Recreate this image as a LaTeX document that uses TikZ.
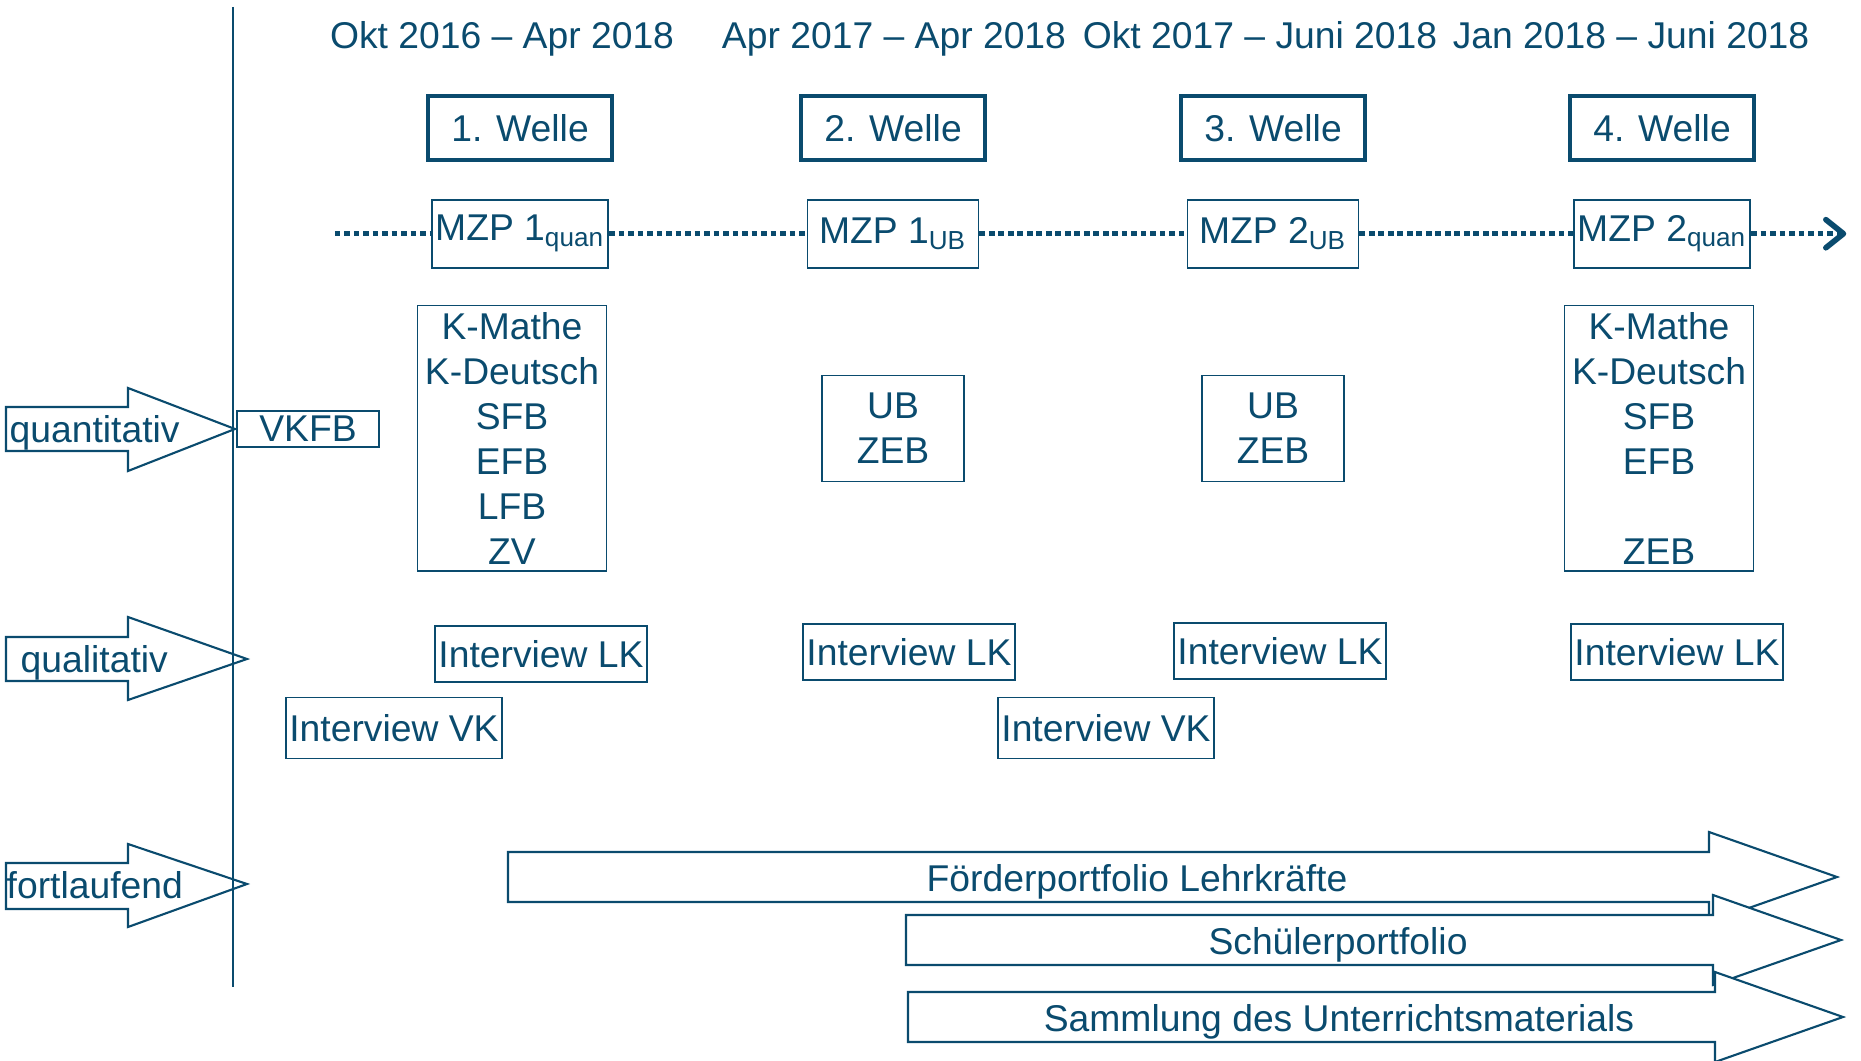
\documentclass[tikz,border=0pt]{standalone}
\usepackage{fontspec}
\setmainfont{Liberation Sans}
\usetikzlibrary{positioning,arrows.meta}
\definecolor{dunkelblau}{RGB}{10,75,110}

\begin{document}
\begin{tikzpicture}[
        x=0.01cm,
        y=-0.01cm,
        every node/.style={
            text=dunkelblau,
            font=\fontsize{10.6}{12.8}\selectfont,
        },
        box/.style={
            rectangle,
            draw=dunkelblau,
            line width=0.5pt,
            inner sep=1pt,
            align=center,
        },
        welle/.style={
            box,
            line width=1pt,
            minimum width=1.84cm,
            minimum height=0.64cm,
        },
        mzp/.style={
            box,
            minimum width=1.71cm,
            minimum height=0.68cm,
        },
        liste/.style={
            box,
            minimum width=1.89cm,
            minimum height=2.65cm,
        },
        ub/.style={
            box,
            minimum width=1.42cm,
            minimum height=1.06cm,
        },
        interview/.style={
            box,
            minimum width=2.11cm,
            minimum height=0.56cm,
        },
        zeitlinie/.style={
            draw=dunkelblau,
            line width=1.35pt,
            dash pattern=on 1.6pt off 1.1pt,
        },
        pfeil/.style={
            draw=dunkelblau,
            line width=0.6pt,
        },
        label/.style={
            anchor=west,
            inner sep=0pt,
        },
        datum/.style={
            anchor=base,
        },
    ]
        \useasboundingbox (0,0) rectangle (1861,1061);

        \draw [dunkelblau, line width=0.5pt] (233,7) -- (233,987);

        \node [datum] (d1) at (502,49) {Okt 2016 -- Apr 2018};
        \node [datum] (d2) at (894,49) {Apr 2017 -- Apr 2018};
        \node [datum] (d3) at (1260,49) {Okt 2017 -- Juni 2018};
        \node [datum] (d4) at (1631,49) {Jan 2018 -- Juni 2018};

        \node [welle] (w1) at (520,128) {1. Welle};
        \node [welle] (w2) at (893,128) {2. Welle};
        \node [welle] (w3) at (1273,128) {3. Welle};
        \node [welle] (w4) at (1662,128) {4. Welle};

        \node [mzp, below=3.7mm of w1] (m1) {MZP 1\textsubscript{quan}};
        \node [mzp, below=3.7mm of w2] (m2) {MZP 1\textsubscript{UB}};
        \node [mzp, below=3.7mm of w3] (m3) {MZP 2\textsubscript{UB}};
        \node [mzp, below=3.7mm of w4] (m4) {MZP 2\textsubscript{quan}};

        \coordinate (start) at ([xshift=-0.96cm]m1.west);
        \coordinate (ende) at ([xshift=0.95cm]m4.east);
        \draw [zeitlinie] (start) -- (m1.west);
        \draw [zeitlinie] (m1.east) -- (m2.west);
        \draw [zeitlinie] (m2.east) -- (m3.west);
        \draw [zeitlinie] (m3.east) -- (m4.west);
        \draw [zeitlinie, -{Straight Barb[length=5pt,width=8pt,round,line width=1.6pt]}] (m4.east) -- (ende);

        \node [liste, below=3.6mm of m1, xshift=-0.08cm] (l1) {K-Mathe\\K-Deutsch\\SFB\\EFB\\LFB\\ZV};
        \node [ub, below=10.6mm of m2] (u2) {UB\\ZEB};
        \node [ub, below=10.6mm of m3] (u3) {UB\\ZEB};
        \node [liste, below=3.6mm of m4, xshift=-0.03cm] (l4) {K-Mathe\\K-Deutsch\\SFB\\EFB\\~\\ZEB};

        \node [box, minimum width=1.42cm, minimum height=0.36cm] (vkfb) at (308,429) {VKFB};

        \node [interview] (lk1) at (541,654) {Interview LK};
        \node [interview] (lk2) at (909,652) {Interview LK};
        \node [interview] (lk3) at (1280,651) {Interview LK};
        \node [interview] (lk4) at (1677,652) {Interview LK};
        \node [interview, minimum height=0.61cm] (vk1) at (394,728) {Interview VK};
        \node [interview, minimum height=0.61cm] (vk2) at (1106,728) {Interview VK};

        \draw [pfeil] (6,407) -- (128,407) -- (128,388) -- (235,429) -- (128,471) -- (128,451) -- (6,451) -- cycle;
        \node [label] (quanti) at (9,433) {quantitativ};
        \draw [pfeil] (6,637) -- (128,637) -- (128,617) -- (247,659) -- (128,700) -- (128,681) -- (6,681) -- cycle;
        \node [label] (quali) at (20,663) {qualitativ};
        \draw [pfeil] (6,863) -- (128,863) -- (128,844) -- (247,884) -- (128,927) -- (128,909) -- (6,909) -- cycle;
        \node [label] (fort) at (6,885) {fortlaufend};

        \draw [pfeil, fill=white] (508,852) -- (1709,852) -- (1709,832) -- (1837,877) -- (1709,922) -- (1709,902) -- (508,902) -- cycle;
        \node (foerder) at (1137,882) {Förderportfolio Lehrkräfte};
        \draw [pfeil, fill=white] (906,915) -- (1713,915) -- (1713,895) -- (1841,940) -- (1713,985) -- (1713,965) -- (906,965) -- cycle;
        \node (schueler) at (1338,945) {Schülerportfolio};
        \draw [pfeil, fill=white] (908,992) -- (1715,992) -- (1715,972) -- (1843,1017) -- (1715,1062) -- (1715,1042) -- (908,1042) -- cycle;
        \node (sammlung) at (1339,1022) {Sammlung des Unterrichtsmaterials};
\end{tikzpicture}
\end{document}
